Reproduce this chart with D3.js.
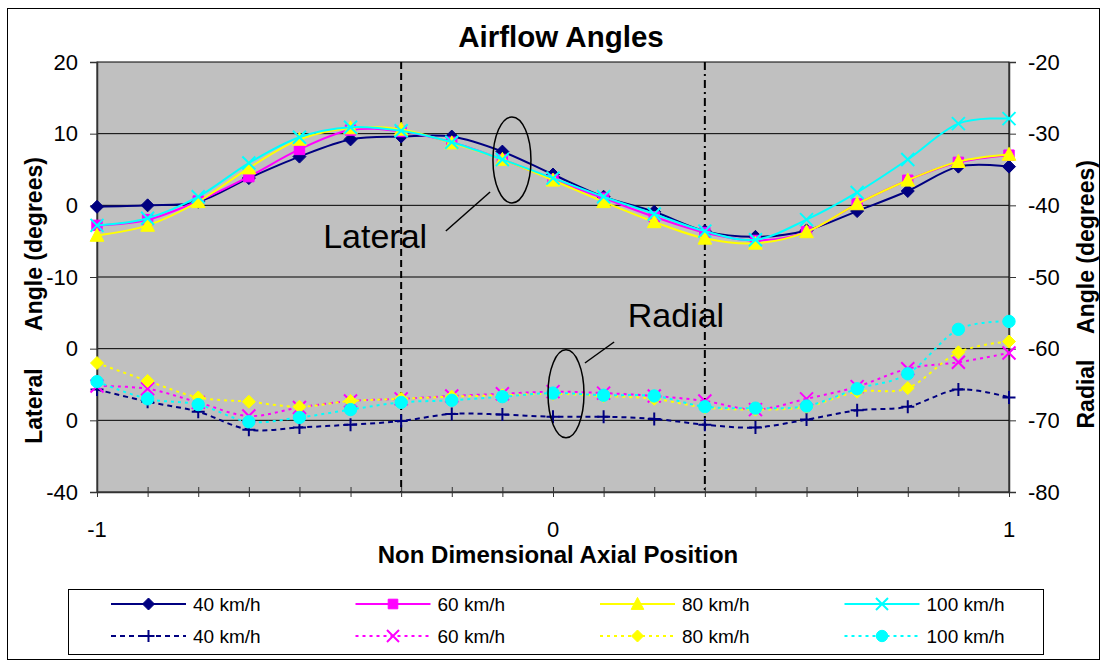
<!DOCTYPE html>
<html lang="en">
    <head>
        <meta charset="utf-8">
        <title>Airflow Angles</title>
        <script src="https://d3js.org/d3.v7.min.js"></script>
        <style type="text/css">
            body { margin: 0; background: #fff; }
            text { font-family: "Liberation Sans", Arial, sans-serif; fill: #000; }
        </style>
    </head>
    <body>
        <script type="text/javascript">

            const w = 1101;
            const h = 662;
            const plot = {left: 97, right: 1009, top: 62, bottom: 492};

            // x positions (non dimensional axial position)
            const positions = [-1, -0.889, -0.778, -0.667, -0.556, -0.444, -0.333, -0.222, -0.111, 0,
                               0.111, 0.222, 0.333, 0.444, 0.556, 0.667, 0.778, 0.889, 1];

            // lateral angles, left axis (degrees)
            const lat40  = [-0.2, 0, 0.5, 3.8, 6.8, 9.2, 9.6, 9.6, 7.5, 4.3, 1.2, -0.9, -3.6, -4.4, -3.5, -0.8, 2.0, 5.4, 5.4];
            const lat60  = [-2.8, -2.0, 0.6, 4.0, 7.8, 10.5, 10.3, 8.8, 6.4, 3.6, 1.0, -1.6, -3.8, -4.9, -3.7, 0.2, 3.5, 6.0, 7.0];
            const lat80  = [-4.2, -2.8, 0.5, 5.2, 9.2, 10.8, 10.6, 8.7, 6.4, 3.5, 0.5, -2.3, -4.6, -5.3, -3.7, 0.2, 3.5, 6.1, 7.1];
            const lat100 = [-2.8, -1.8, 1.2, 5.9, 9.5, 10.9, 10.4, 8.8, 6.4, 3.8, 1.2, -1.2, -3.6, -4.8, -2.0, 1.8, 6.4, 11.4, 12.1];

            // radial angles, right axis (degrees)
            const rad40  = [-65.7, -67.4, -68.8, -71.3, -71.0, -70.6, -70.1, -69.1, -69.2, -69.5, -69.5, -69.8, -70.6, -71.0, -69.9, -68.6, -68.1, -65.7, -66.8];
            const rad60  = [-65.2, -65.6, -67.5, -69.4, -68.2, -67.3, -67.0, -66.6, -66.3, -66.0, -66.2, -66.6, -67.3, -68.5, -67.0, -65.3, -62.8, -61.9, -60.6];
            const rad80  = [-62.0, -64.5, -66.8, -67.4, -68.1, -67.3, -67.0, -66.7, -66.5, -66.3, -66.6, -67.0, -68.2, -68.5, -68.1, -66.0, -65.5, -60.5, -59.0];
            const rad100 = [-64.6, -67.0, -67.8, -70.2, -69.6, -68.5, -67.5, -67.2, -66.7, -66.2, -66.5, -66.6, -68.1, -68.3, -68.0, -65.6, -63.5, -57.3, -56.2];

            const leftTicks = [20, 10, 0, -10, -20, -30, -40];
            const rightTicks = [-20, -30, -40, -50, -60, -70, -80];
            const xTickLabels = [-1, 0, 1];
            const markLines = [-0.333, 0.333];

            const series = [
                {name: "40 km/h",  values: lat40,  axis: "left",  color: "#000080", marker: "diamond",  dash: null},
                {name: "60 km/h",  values: lat60,  axis: "left",  color: "#FF00FF", marker: "square",   dash: null},
                {name: "80 km/h",  values: lat80,  axis: "left",  color: "#FFFF00", marker: "triangle", dash: null},
                {name: "100 km/h", values: lat100, axis: "left",  color: "#00FFFF", marker: "x",        dash: null},
                {name: "40 km/h",  values: rad40,  axis: "right", color: "#000080", marker: "plus",     dash: "5,4"},
                {name: "60 km/h",  values: rad60,  axis: "right", color: "#FF00FF", marker: "x",        dash: "3,4"},
                {name: "80 km/h",  values: rad80,  axis: "right", color: "#FFFF00", marker: "diamond",  dash: "3,4"},
                {name: "100 km/h", values: rad100, axis: "right", color: "#00FFFF", marker: "circle",   dash: "3,4"}
            ];

            const xScale = d3.scaleLinear().domain([-1, 1]).range([plot.left, plot.right]);
            const yLeft = d3.scaleLinear().domain([-40, 20]).range([plot.bottom, plot.top]);
            const yRight = d3.scaleLinear().domain([-80, -20]).range([plot.bottom, plot.top]);
            const plainNum = d => String(d); // hyphen minus, like the original

            const svg = d3.select("body")
                          .append("svg")
                          .attr("width", w)
                          .attr("height", h);

            // outer chart border
            svg.append("rect")
               .attr("x", 7.5).attr("y", 8.5)
               .attr("width", 1092).attr("height", 651)
               .attr("fill", "#fff")
               .attr("stroke", "#000").attr("stroke-width", 1);

            // plot area
            svg.append("rect")
               .attr("x", plot.left).attr("y", plot.top)
               .attr("width", plot.right - plot.left).attr("height", plot.bottom - plot.top)
               .attr("fill", "#C0C0C0")
               .attr("stroke", "#000").attr("stroke-width", 1);

            // gridlines
            svg.selectAll("line.grid")
               .data(leftTicks.slice(1, -1))
               .enter().append("line")
               .attr("class", "grid")
               .attr("x1", plot.left).attr("x2", plot.right)
               .attr("y1", d => yLeft(d)).attr("y2", d => yLeft(d))
               .attr("stroke", "#000").attr("stroke-width", 1);

            // vertical marker lines
            svg.selectAll("line.mark")
               .data(markLines)
               .enter().append("line")
               .attr("class", "mark")
               .attr("x1", d => xScale(d)).attr("x2", d => xScale(d))
               .attr("y1", plot.top).attr("y2", plot.bottom)
               .attr("stroke", "#000").attr("stroke-width", 2)
               .attr("stroke-dasharray", (d, i) => i === 0 ? "7,4" : "8,4,2,4");

            // axes
            const leftAxis = d3.axisLeft(yLeft).tickValues(leftTicks).tickFormat(plainNum).tickSize(7).tickPadding(12);
            const gl = svg.append("g")
               .attr("transform", "translate(" + plot.left + ",0)")
               .call(leftAxis);

            const rightAxis = d3.axisRight(yRight).tickValues(rightTicks).tickFormat(plainNum).tickSize(7).tickPadding(12);
            const gr = svg.append("g")
               .attr("transform", "translate(" + plot.right + ",0)")
               .call(rightAxis);

            const bottomAxis = d3.axisBottom(xScale).tickValues(positions).tickSize(0).tickFormat("");
            const gb = svg.append("g")
               .attr("transform", "translate(0," + plot.bottom + ")")
               .call(bottomAxis);
            gb.selectAll(".tick line")
              .attr("y1", -5).attr("y2", 5);

            [gl, gr, gb].forEach(g => {
                g.select(".domain").attr("stroke", "#333").attr("stroke-width", 1.5);
                g.selectAll(".tick line").attr("stroke", "#333");
                g.selectAll("text").style("font-size", "22px").attr("fill", "#000");
            });

            svg.selectAll("text.xlab")
               .data(xTickLabels)
               .enter().append("text")
               .attr("class", "xlab")
               .attr("x", d => xScale(d))
               .attr("y", 537)
               .attr("text-anchor", "middle")
               .style("font-size", "22px")
               .text(plainNum);

            // line + markers
            const markerPath = (type, s) => {
                const p = d3.path();
                if (type === "diamond") {
                    p.moveTo(0, -s); p.lineTo(s, 0); p.lineTo(0, s); p.lineTo(-s, 0); p.closePath();
                } else if (type === "square") {
                    const a = s * 0.8;
                    p.rect(-a, -a, 2 * a, 2 * a);
                } else if (type === "triangle") {
                    p.moveTo(0, -s * 1.1); p.lineTo(s * 1.05, s * 0.9); p.lineTo(-s * 1.05, s * 0.9); p.closePath();
                } else if (type === "x") {
                    p.moveTo(-s, -s); p.lineTo(s, s); p.moveTo(s, -s); p.lineTo(-s, s);
                } else if (type === "plus") {
                    p.moveTo(-s, 0); p.lineTo(s, 0); p.moveTo(0, -s); p.lineTo(0, s);
                } else {
                    p.arc(0, 0, s * 0.95, 0, 2 * Math.PI);
                }
                return p.toString();
            };
            const isStroked = t => t === "x" || t === "plus";

            const drawMarker = (sel, d, s) => {
                sel.append("path")
                   .attr("d", markerPath(d.marker, s))
                   .attr("fill", isStroked(d.marker) ? "none" : d.color)
                   .attr("stroke", d.color)
                   .attr("stroke-width", isStroked(d.marker) ? 2 : 1);
            };

            series.forEach(s => {
                const yScale = s.axis === "left" ? yLeft : yRight;
                const line = d3.line()
                               .x((d, i) => xScale(positions[i]))
                               .y(d => yScale(d))
                               .curve(d3.curveCardinal.tension(0));
                const g = svg.append("g");
                g.append("path")
                 .datum(s.values)
                 .attr("d", line)
                 .attr("fill", "none")
                 .attr("stroke", s.color)
                 .attr("stroke-width", 2)
                 .attr("stroke-dasharray", s.dash);
                s.values.forEach((v, i) => {
                    const m = g.append("g")
                               .attr("transform", "translate(" + xScale(positions[i]) + "," + yScale(v) + ")");
                    drawMarker(m, s, 6.5);
                });
            });

            // annotations (data units on left axis)
            const annot = [
                {label: "Lateral", ex: -0.090, ey: 6.33,  rx: 19, ry: 43, l1: [-0.138, 1.86],  l2: [-0.235, -3.58], tx: -0.504, ty: -5.95},
                {label: "Radial",  ex: 0.0285, ey: -26.3, rx: 18, ry: 44, l1: [0.070, -22.0],  l2: [0.134, -19.07], tx: 0.164,  ty: -16.97}
            ];
            annot.forEach(a => {
                svg.append("ellipse")
                   .attr("cx", xScale(a.ex)).attr("cy", yLeft(a.ey))
                   .attr("rx", a.rx).attr("ry", a.ry)
                   .attr("fill", "none").attr("stroke", "#000").attr("stroke-width", 1.5);
                svg.append("line")
                   .attr("x1", xScale(a.l1[0])).attr("y1", yLeft(a.l1[1]))
                   .attr("x2", xScale(a.l2[0])).attr("y2", yLeft(a.l2[1]))
                   .attr("stroke", "#000").attr("stroke-width", 1.5);
                svg.append("text")
                   .attr("x", xScale(a.tx)).attr("y", yLeft(a.ty))
                   .style("font-size", "34px")
                   .text(a.label);
            });

            // title
            svg.append("text")
               .attr("x", 561).attr("y", 47)
               .attr("text-anchor", "middle")
               .style("font-size", "29.5px").style("font-weight", "bold")
               .text("Airflow Angles");

            svg.append("text")
               .attr("x", 558).attr("y", 563)
               .attr("text-anchor", "middle")
               .style("font-size", "24px").style("font-weight", "bold")
               .text("Non Dimensional Axial Position");

            // axis titles (white boxes hide part of the tick labels, like the original)
            svg.append("rect").attr("x", 10).attr("y", 338).attr("width", 56).attr("height", 112).attr("fill", "#fff");
            svg.append("rect").attr("x", 1059).attr("y", 338).attr("width", 38).attr("height", 100).attr("fill", "#fff");

            const axisTitle = (x, y, t) => svg.append("text")
                .attr("transform", "translate(" + x + "," + y + ") rotate(-90)")
                .attr("text-anchor", "middle")
                .style("font-size", "23px").style("font-weight", "bold")
                .text(t);
            axisTitle(42, 244, "Angle (degrees)");
            axisTitle(42, 406, "Lateral");
            axisTitle(1094, 247, "Angle (degrees)");
            axisTitle(1094, 394, "Radial");

            // legend
            svg.append("rect")
               .attr("x", 68.5).attr("y", 589.5)
               .attr("width", 975).attr("height", 65)
               .attr("fill", "#fff")
               .attr("stroke", "#000").attr("stroke-width", 1);

            const legend = svg.selectAll("g.legend")
                              .data(series)
                              .enter().append("g")
                              .attr("class", "legend")
                              .attr("transform", (d, i) => "translate(" + (111 + (i % 4) * 244.5) + "," + (604 + Math.floor(i / 4) * 32) + ")");

            legend.append("line")
                  .attr("x1", 0).attr("x2", 75)
                  .attr("stroke", d => d.color)
                  .attr("stroke-width", 2)
                  .attr("stroke-dasharray", d => d.dash);
            legend.each(function(d) {
                const m = d3.select(this).append("g").attr("transform", "translate(37.5,0)");
                drawMarker(m, d, 6);
            });
            legend.append("text")
                  .attr("x", 82)
                  .attr("y", 7)
                  .style("font-size", "19px")
                  .text(d => d.name);

        </script>
    </body>
</html>
